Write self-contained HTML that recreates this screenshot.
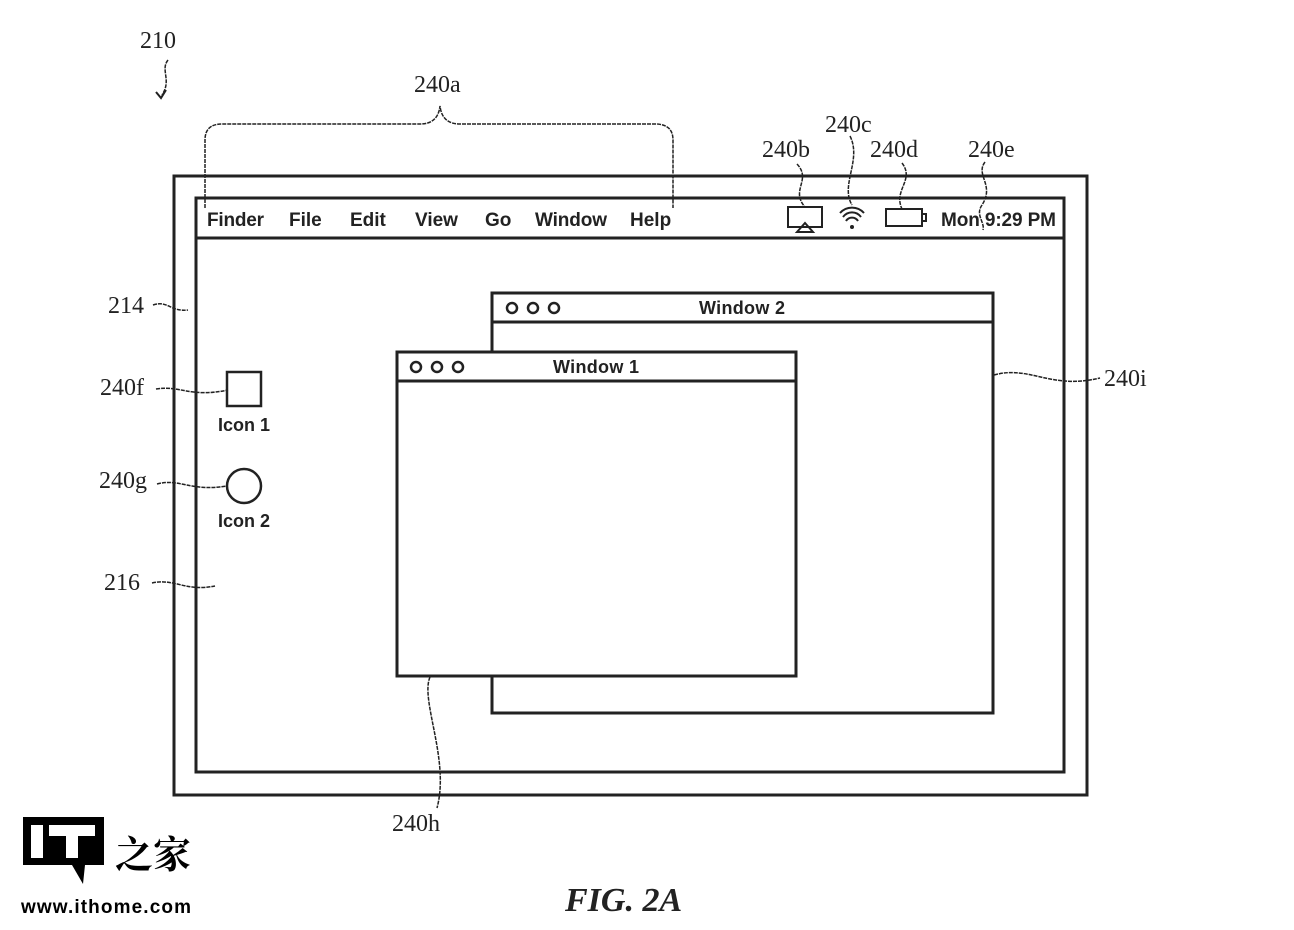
<!DOCTYPE html>
<html><head><style>body{margin:0;background:#fff}svg{display:block}</style></head><body>
<svg width="1294" height="930" xmlns="http://www.w3.org/2000/svg">
<g fill="none" stroke="#222" stroke-width="3">
<rect x="174" y="176" width="913" height="619"/>
<rect x="196" y="198" width="868" height="574"/>
<line x1="196" y1="238" x2="1064" y2="238"/>
<rect x="492" y="293" width="501" height="420" fill="#fff"/>
<line x1="492" y1="322" x2="993" y2="322"/>
<rect x="397" y="352" width="399" height="324" fill="#fff"/>
<line x1="397" y1="381" x2="796" y2="381"/>
<rect x="227" y="372" width="34" height="34" stroke-width="2.5"/>
<circle cx="244" cy="486" r="17" stroke-width="2.5"/>
<g stroke-width="2.5">
<circle cx="512" cy="308" r="5"/><circle cx="533" cy="308" r="5"/><circle cx="554" cy="308" r="5"/>
<circle cx="416" cy="367" r="5"/><circle cx="437" cy="367" r="5"/><circle cx="458" cy="367" r="5"/>
</g>
<g stroke-width="2">
<rect x="788" y="207" width="34" height="20"/>
<path d="M797 232 L805 223 L813 232 Z"/>
<rect x="886" y="209" width="36" height="17"/><rect x="922" y="214" width="4" height="7"/>
<path d="M840 213 a16 16 0 0 1 24 0 M843 217 a11 11 0 0 1 18 0 M846 221 a7 7 0 0 1 12 0"/>
</g>
<circle cx="852" cy="227" r="2" fill="#222" stroke="none"/>
<g stroke-width="1.5" stroke-dasharray="4 1">
<path d="M205 208 V140 Q205 124 222 124 H420 Q438 124 440 106 Q442 124 460 124 H655 Q673 124 673 140 V208"/>
<path d="M153 305 C168 300 170 312 188 310"/>
<path d="M156 389 C180 385 190 398 228 390"/>
<path d="M157 484 C180 478 190 492 227 486"/>
<path d="M152 583 C175 578 185 592 215 586"/>
<path d="M994 375 C1030 365 1050 390 1100 378"/>
<path d="M430 677 C420 700 450 760 437 808"/>
<path d="M797 164 C812 180 790 190 805 207"/>
<path d="M850 136 C862 160 840 185 852 205"/>
<path d="M902 163 C915 180 893 190 902 209"/>
<path d="M985 162 C975 175 995 185 982 205 C975 215 985 222 983 230"/>
<path d="M168 60 C160 70 172 80 162 95"/>
</g>
<path d="M156 92 L161 98 L166 90" stroke-width="2"/>
</g>
<g font-family="Liberation Sans, sans-serif" font-weight="bold" font-size="19" fill="#222">
<text x="207" y="226" textLength="57">Finder</text><text x="289" y="226">File</text><text x="350" y="226">Edit</text>
<text x="415" y="226">View</text><text x="485" y="226">Go</text><text x="535" y="226" textLength="72">Window</text>
<text x="630" y="226">Help</text><text x="941" y="226" textLength="115">Mon 9:29 PM</text>
<text x="699" y="314" font-size="18" textLength="86">Window 2</text><text x="553" y="373" font-size="18" textLength="86">Window 1</text>
<text x="218" y="431" font-size="18" textLength="52">Icon 1</text><text x="218" y="527" font-size="18" textLength="52">Icon 2</text>
</g>
<g font-family="Liberation Serif, serif" font-size="24" fill="#222">
<text x="140" y="48">210</text><text x="414" y="92">240a</text><text x="762" y="157">240b</text>
<text x="825" y="132">240c</text><text x="870" y="157">240d</text><text x="968" y="157">240e</text>
<text x="108" y="313">214</text><text x="100" y="395">240f</text><text x="99" y="488">240g</text>
<text x="104" y="590">216</text><text x="1104" y="386">240i</text><text x="392" y="831">240h</text>
<text x="565" y="911" font-size="34" font-weight="bold" font-style="italic">FIG. 2A</text>
</g>
<path d="M23 817 H104 V865 H85 L83 884 L72 865 H23 Z" fill="#000"/>
<rect x="31" y="825" width="12" height="33" fill="#fff"/>
<rect x="49" y="825" width="46" height="11" fill="#fff"/>
<rect x="66" y="825" width="12" height="33" fill="#fff"/>
<text x="115" y="868" font-family="Noto Serif CJK SC, serif" font-weight="bold" font-size="38" fill="#000">之家</text>
<text x="21" y="913" font-family="Liberation Sans, sans-serif" font-weight="bold" font-size="19" fill="#000" textLength="170">www.ithome.com</text>
</svg>
</body></html>
